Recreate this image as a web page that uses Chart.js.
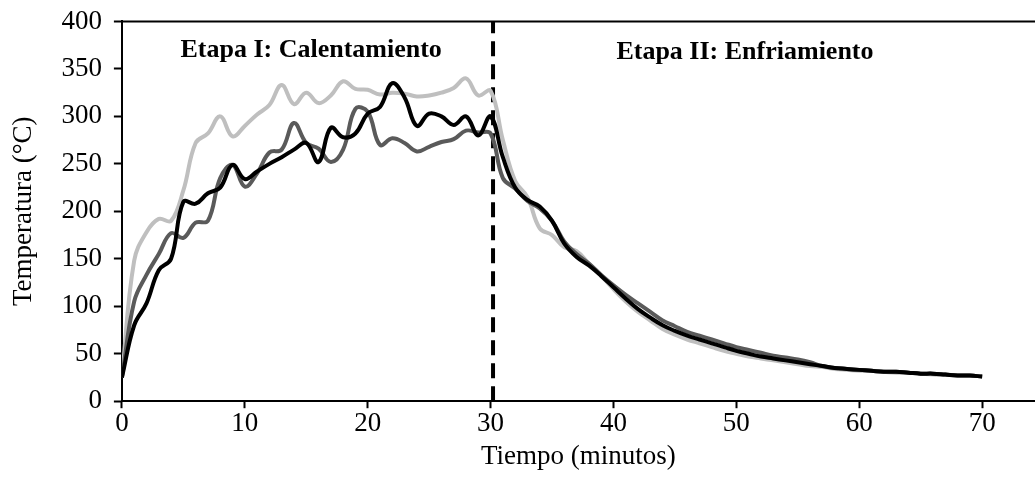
<!DOCTYPE html>
<html>
<head>
<meta charset="utf-8">
<script src="https://cdn.jsdelivr.net/npm/chart.js@4/dist/chart.umd.min.js"></script>
<style>
  html, body { margin: 0; padding: 0; background: #fff; }
  #wrap { width: 1035px; height: 479px; }
</style>
</head>
<body>
<div id="wrap"><canvas id="tempChart"></canvas></div>
<script>
// Tiempo en minutos (una lectura por minuto)
const minutes = Array.from({ length: 71 }, (_, i) => i);

const seriesLight = [
  25, 148, 178, 192, 190, 222, 272, 282, 300, 279,
  290, 302, 312, 333, 313, 325, 314, 322, 337, 329,
  328, 323, 325, 324, 321, 322, 325, 330, 340, 322,
  327, 275, 232, 215, 182, 175, 162, 158, 145, 132,
  118, 105, 94, 85, 76, 70, 65, 61, 57, 53,
  50, 47, 45, 43, 41, 39, 37, 36, 34, 33,
  32, 32, 31, 30, 30, 29, 28, 28, 27, 27, 26
];

const seriesDark = [
  25, 105, 133, 155, 177, 172, 188, 190, 235, 249,
  226, 240, 262, 265, 293, 272, 266, 252, 265, 308,
  305, 270, 277, 272, 263, 268, 273, 276, 285, 283,
  282, 235, 224, 211, 203, 190, 168, 155, 145, 133,
  122, 112, 103, 94, 85, 79, 73, 69, 65, 61,
  57, 54, 51, 48, 46, 44, 41, 37, 35, 34,
  33, 32, 31, 31, 30, 29, 29, 28, 27, 27, 26
];

const seriesBlack = [
  25, 80, 103, 138, 150, 210, 208, 219, 225, 249,
  234, 242, 250, 257, 265, 272, 252, 288, 278, 282,
  303, 310, 335, 320, 290, 303, 300, 291, 300, 280,
  300, 257, 225, 212, 205, 190, 166, 152, 143, 132,
  120, 108, 97, 88, 80, 74, 69, 65, 61, 57,
  53, 50, 47, 45, 43, 41, 39, 37, 35, 34,
  33, 32, 31, 31, 30, 29, 29, 28, 27, 27, 26
];

// fin del calentamiento
const stageBoundary = 30.2;

const yTicks = [0, 50, 100, 150, 200, 250, 300, 350, 400];
const xTicks = [0, 10, 20, 30, 40, 50, 60, 70];

const stageLabels = [
  { text: 'Etapa I: Calentamiento', x: 15.4, y: 370 },
  { text: 'Etapa II: Enfriamiento', x: 50.7, y: 368 }
];

const FONT = '"Liberation Serif", "Times New Roman", serif';
const FONT_SIZE = 27;

const toPoints = vals => vals.map((v, i) => ({ x: minutes[i], y: v }));

// rótulos de las etapas y borde superior del área de trazado
const stageLabelPlugin = {
  id: 'stageLabels',
  afterDatasetsDraw(chart) {
    const { ctx, scales, chartArea } = chart;
    ctx.save();
    ctx.strokeStyle = '#000';
    ctx.lineWidth = 2;
    ctx.beginPath();
    ctx.moveTo(chartArea.left, chartArea.top);
    ctx.lineTo(chartArea.right, chartArea.top);
    ctx.stroke();

    ctx.font = 'bold 26px ' + FONT;
    ctx.fillStyle = '#000';
    ctx.textAlign = 'center';
    ctx.textBaseline = 'middle';
    stageLabels.forEach(l => {
      ctx.fillText(l.text, scales.x.getPixelForValue(l.x), scales.y.getPixelForValue(l.y));
    });
    ctx.restore();
  }
};

const ctx = document.getElementById('tempChart').getContext('2d');
new Chart(ctx, {
  type: 'line',
  data: {
    datasets: [
      {
        data: toPoints(seriesBlack),
        borderColor: '#000000',
        borderWidth: 4,
        tension: 0.4,
        pointRadius: 0
      },
      {
        data: toPoints(seriesDark),
        borderColor: '#5a5a5a',
        borderWidth: 4,
        tension: 0.4,
        pointRadius: 0
      },
      {
        data: toPoints(seriesLight),
        borderColor: '#bfbfbf',
        borderWidth: 4,
        tension: 0.4,
        pointRadius: 0
      },
      {
        data: [{ x: stageBoundary, y: 0 }, { x: stageBoundary, y: 400 }],
        borderColor: '#000000',
        borderWidth: 4,
        borderDash: [15, 8],
        pointRadius: 0,
        tension: 0
      }
    ]
  },
  options: {
    responsive: true,
    maintainAspectRatio: false,
    animation: false,
    layout: { padding: { top: 5, right: 0, bottom: 6, left: 8 } },
    plugins: { legend: { display: false }, tooltip: { enabled: false } },
    scales: {
      x: {
        type: 'linear',
        min: 0,
        max: 74.3,
        afterBuildTicks: s => { s.ticks = xTicks.map(v => ({ value: v })); },
        ticks: { color: '#000', font: { family: FONT, size: FONT_SIZE }, padding: 0, maxRotation: 0 },
        grid: { drawOnChartArea: false, drawTicks: true, tickLength: 7, tickColor: '#000', tickWidth: 2 },
        border: { display: true, color: '#000', width: 2 },
        title: { display: true, text: 'Tiempo (minutos)', color: '#000', font: { family: FONT, size: FONT_SIZE }, padding: { top: 0, bottom: 0 } }
      },
      y: {
        min: 0,
        max: 400,
        afterBuildTicks: s => { s.ticks = yTicks.map(v => ({ value: v })); },
        ticks: { color: '#000', font: { family: FONT, size: FONT_SIZE, lineHeight: 0.7 }, padding: 12 },
        grid: { drawOnChartArea: false, drawTicks: true, tickLength: 8, tickColor: '#000', tickWidth: 2 },
        border: { display: true, color: '#000', width: 2 },
        title: { display: true, text: 'Temperatura (°C)', color: '#000', font: { family: FONT, size: FONT_SIZE }, padding: { top: 0, bottom: 9 } }
      }
    }
  },
  plugins: [stageLabelPlugin]
});
</script>
</body>
</html>
